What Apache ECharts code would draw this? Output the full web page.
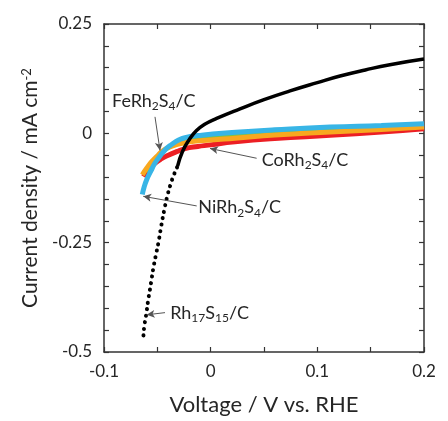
<!DOCTYPE html>
<html>
<head>
<meta charset="utf-8">
<title>HER polarization</title>
<script src="https://cdn.jsdelivr.net/npm/echarts/dist/echarts.min.js"></script>
<style>
  html, body { margin: 0; padding: 0; background: #fff; }
  #chart { width: 448px; height: 421px; }
</style>
</head>
<body>
<div id="chart"></div>
<script>
// tick labels
const xTicks = [-0.1, 0, 0.1, 0.2];
const yTicks = [-0.5, -0.25, 0, 0.25];

// Rh17S15/C : dotted (sparse points) part, then dense part
const rhDotted = [
  [-0.0630, -0.462], [-0.0622, -0.440], [-0.0606, -0.417], [-0.0585, -0.380],
  [-0.0569, -0.357], [-0.0553, -0.332], [-0.0538, -0.309], [-0.0515, -0.280],
  [-0.0490, -0.250], [-0.0462, -0.210], [-0.0435, -0.175], [-0.0405, -0.142],
  [-0.0375, -0.116], [-0.0345, -0.095], [-0.0310, -0.075]
];
const rhSolid = [
  [-0.0310, -0.075], [-0.0265, -0.042],
  [-0.0200, -0.014], [-0.0135, 0.006], [-0.0060, 0.020], [0.0056, 0.034],
  [0.0275, 0.056], [0.0500, 0.077], [0.0744, 0.097], [0.1000, 0.116],
  [0.1213, 0.131], [0.1450, 0.145], [0.1680, 0.157], [0.2000, 0.170]
];
const niCurve = [
  [-0.0641, -0.140], [-0.0625, -0.124], [-0.0600, -0.106], [-0.0560, -0.086],
  [-0.0522, -0.068], [-0.0475, -0.052], [-0.0428, -0.038], [-0.0380, -0.028],
  [-0.0334, -0.020], [-0.0280, -0.013], [-0.0240, -0.010], [-0.0160, -0.006],
  [-0.0084, -0.0045], [0.0000, -0.002], [0.0200, 0.002], [0.0600, 0.008],
  [0.1120, 0.0144], [0.1600, 0.018], [0.2000, 0.022]
];
const unlabeledCurve = [
  [-0.0600, -0.088], [-0.0520, -0.062], [-0.0440, -0.041], [-0.0340, -0.025],
  [-0.0240, -0.015], [-0.0084, -0.0097], [0.0228, -0.0045], [0.0600, 0.001],
  [0.1120, 0.0083], [0.1600, 0.013], [0.2000, 0.018]
];
const feCurve = [
  [-0.0641, -0.095], [-0.0600, -0.080], [-0.0553, -0.065], [-0.0500, -0.052],
  [-0.0460, -0.042], [-0.0400, -0.033], [-0.0334, -0.027], [-0.0210, -0.020],
  [0.0000, -0.015], [0.0228, -0.011], [0.0600, -0.004], [0.1120, 0.003],
  [0.1600, 0.009], [0.2000, 0.0144]
];
const coCurve = [
  [-0.0630, -0.099], [-0.0580, -0.082], [-0.0520, -0.068], [-0.0460, -0.058],
  [-0.0397, -0.050], [-0.0320, -0.042], [-0.0240, -0.035], [-0.0120, -0.030],
  [-0.0022, -0.027], [0.0228, -0.0195], [0.0600, -0.012], [0.1120, -0.0045],
  [0.1600, 0.003], [0.2000, 0.0106]
];

const font = 'Lato';
const txt = '#262626';

// text with subscripts
const richLabel = {
  t: { fontSize: 18, fontFamily: font, color: txt, lineHeight: 22 },
  s: { fontSize: 12, fontFamily: font, color: txt, lineHeight: 11, verticalAlign: 'bottom' }
};

function note(at, tip, tail, text) {
  return {
    markLine: {
      silent: true,
      animation: false,
      symbolSize: [6, 8],
      lineStyle: { color: '#555', width: 1, type: 'solid' },
      label: { show: false },
      data: [[
        { coord: tip, symbol: 'arrow' },
        { coord: tail, symbol: 'none' }
      ]]
    },
    markPoint: {
      silent: true,
      symbol: 'circle',
      symbolSize: 0,
      label: {
        show: true,
        position: 'right',
        distance: 0,
        formatter: text,
        rich: richLabel
      },
      data: [{ coord: at }]
    }
  };
}

function axisCommon(min, max, interval, minorSplit) {
  return {
    type: 'value',
    min: min,
    max: max,
    interval: interval,
    axisLine: { show: true, onZero: false, lineStyle: { color: '#333', width: 1.5 } },
    axisTick: { show: true, inside: true, length: 5, lineStyle: { color: '#333', width: 1.2 } },
    minorTick: { show: true, splitNumber: minorSplit, length: 5, lineStyle: { color: '#333', width: 1.2 } },
    splitLine: { show: false },
    minorSplitLine: { show: false }
  };
}

const xMin = xTicks[0], xMax = xTicks[xTicks.length - 1];
const yMin = yTicks[0], yMax = yTicks[yTicks.length - 1];

const xBottom = Object.assign(axisCommon(xMin, xMax, 0.1, 2), {
  position: 'bottom',
  name: 'Voltage / V vs. RHE',
  nameLocation: 'middle',
  nameGap: 42,
  nameTextStyle: { fontSize: 22, fontFamily: font, color: txt },
  axisLabel: { fontSize: 17, fontFamily: font, color: txt, margin: 11,
    formatter: v => String(Math.round(v * 10) / 10) }
});
const xTop = Object.assign(axisCommon(xMin, xMax, 0.1, 2), {
  position: 'top', axisLabel: { show: false }
});
const yLeft = Object.assign(axisCommon(yMin, yMax, 0.25, 5), {
  position: 'left',
  name: 'Current density / mA cm{sup|-2}',
  nameLocation: 'middle',
  nameGap: 56,
  nameTextStyle: {
    fontSize: 21, fontFamily: font, color: txt,
    rich: { sup: { fontSize: 13, fontFamily: font, color: txt, verticalAlign: 'top', lineHeight: 13 } }
  },
  axisLabel: { fontSize: 17, fontFamily: font, color: txt, margin: 12,
    formatter: v => String(Math.round(v * 100) / 100) }
});
const yRight = Object.assign(axisCommon(yMin, yMax, 0.25, 5), {
  position: 'right', axisLabel: { show: false }
});

const option = {
  animation: false,
  backgroundColor: '#fff',
  grid: { left: 104, top: 24, width: 320, height: 332 },
  xAxis: [xBottom, xTop],
  yAxis: [yLeft, yRight],
  series: [
    Object.assign({
      name: 'CoRh2S4/C', type: 'line', data: coCurve, showSymbol: false, smooth: true,
      lineStyle: { color: '#ec1f24', width: 5 }, z: 2
    }, note([0.0478, -0.061], [-0.0006, -0.0346], [0.0431, -0.057], '{t|CoRh}{s|2}{t|S}{s|4}{t|/C}')),
    {
      name: 'unlabeled', type: 'line', data: unlabeledCurve, showSymbol: false, smooth: true,
      lineStyle: { color: '#7dc242', width: 4 }, z: 2
    },
    Object.assign({
      name: 'FeRh2S4/C', type: 'line', data: feCurve, showSymbol: false, smooth: true,
      lineStyle: { color: '#f8a81f', width: 5 }, z: 3
    }, note([-0.0925, 0.074], [-0.0475, -0.039], [-0.0522, 0.0377], '{t|FeRh}{s|2}{t|S}{s|4}{t|/C}')),
    Object.assign({
      name: 'NiRh2S4/C', type: 'line', data: niCurve, showSymbol: false, smooth: true,
      lineStyle: { color: '#38b5e6', width: 5 }, z: 3
    }, note([-0.0116, -0.170], [-0.0632, -0.144], [-0.0131, -0.166], '{t|NiRh}{s|2}{t|S}{s|4}{t|/C}')),
    Object.assign({
      name: 'Rh17S15/C', type: 'line', data: rhDotted, showSymbol: false, smooth: true,
      lineStyle: { color: '#000', width: 4, type: [0.1, 6.5], cap: 'round' }, z: 4
    }, note([-0.038, -0.411], [-0.060, -0.415], [-0.0428, -0.410], '{t|Rh}{s|17}{t|S}{s|15}{t|/C}')),
    {
      name: 'Rh17S15/C solid', type: 'line', data: rhSolid, showSymbol: false, smooth: true,
      lineStyle: { color: '#000', width: 3.5 }, z: 4
    }
  ]
};

const chart = echarts.init(document.getElementById('chart'), null, { renderer: 'canvas' });
chart.setOption(option);
</script>
</body>
</html>
